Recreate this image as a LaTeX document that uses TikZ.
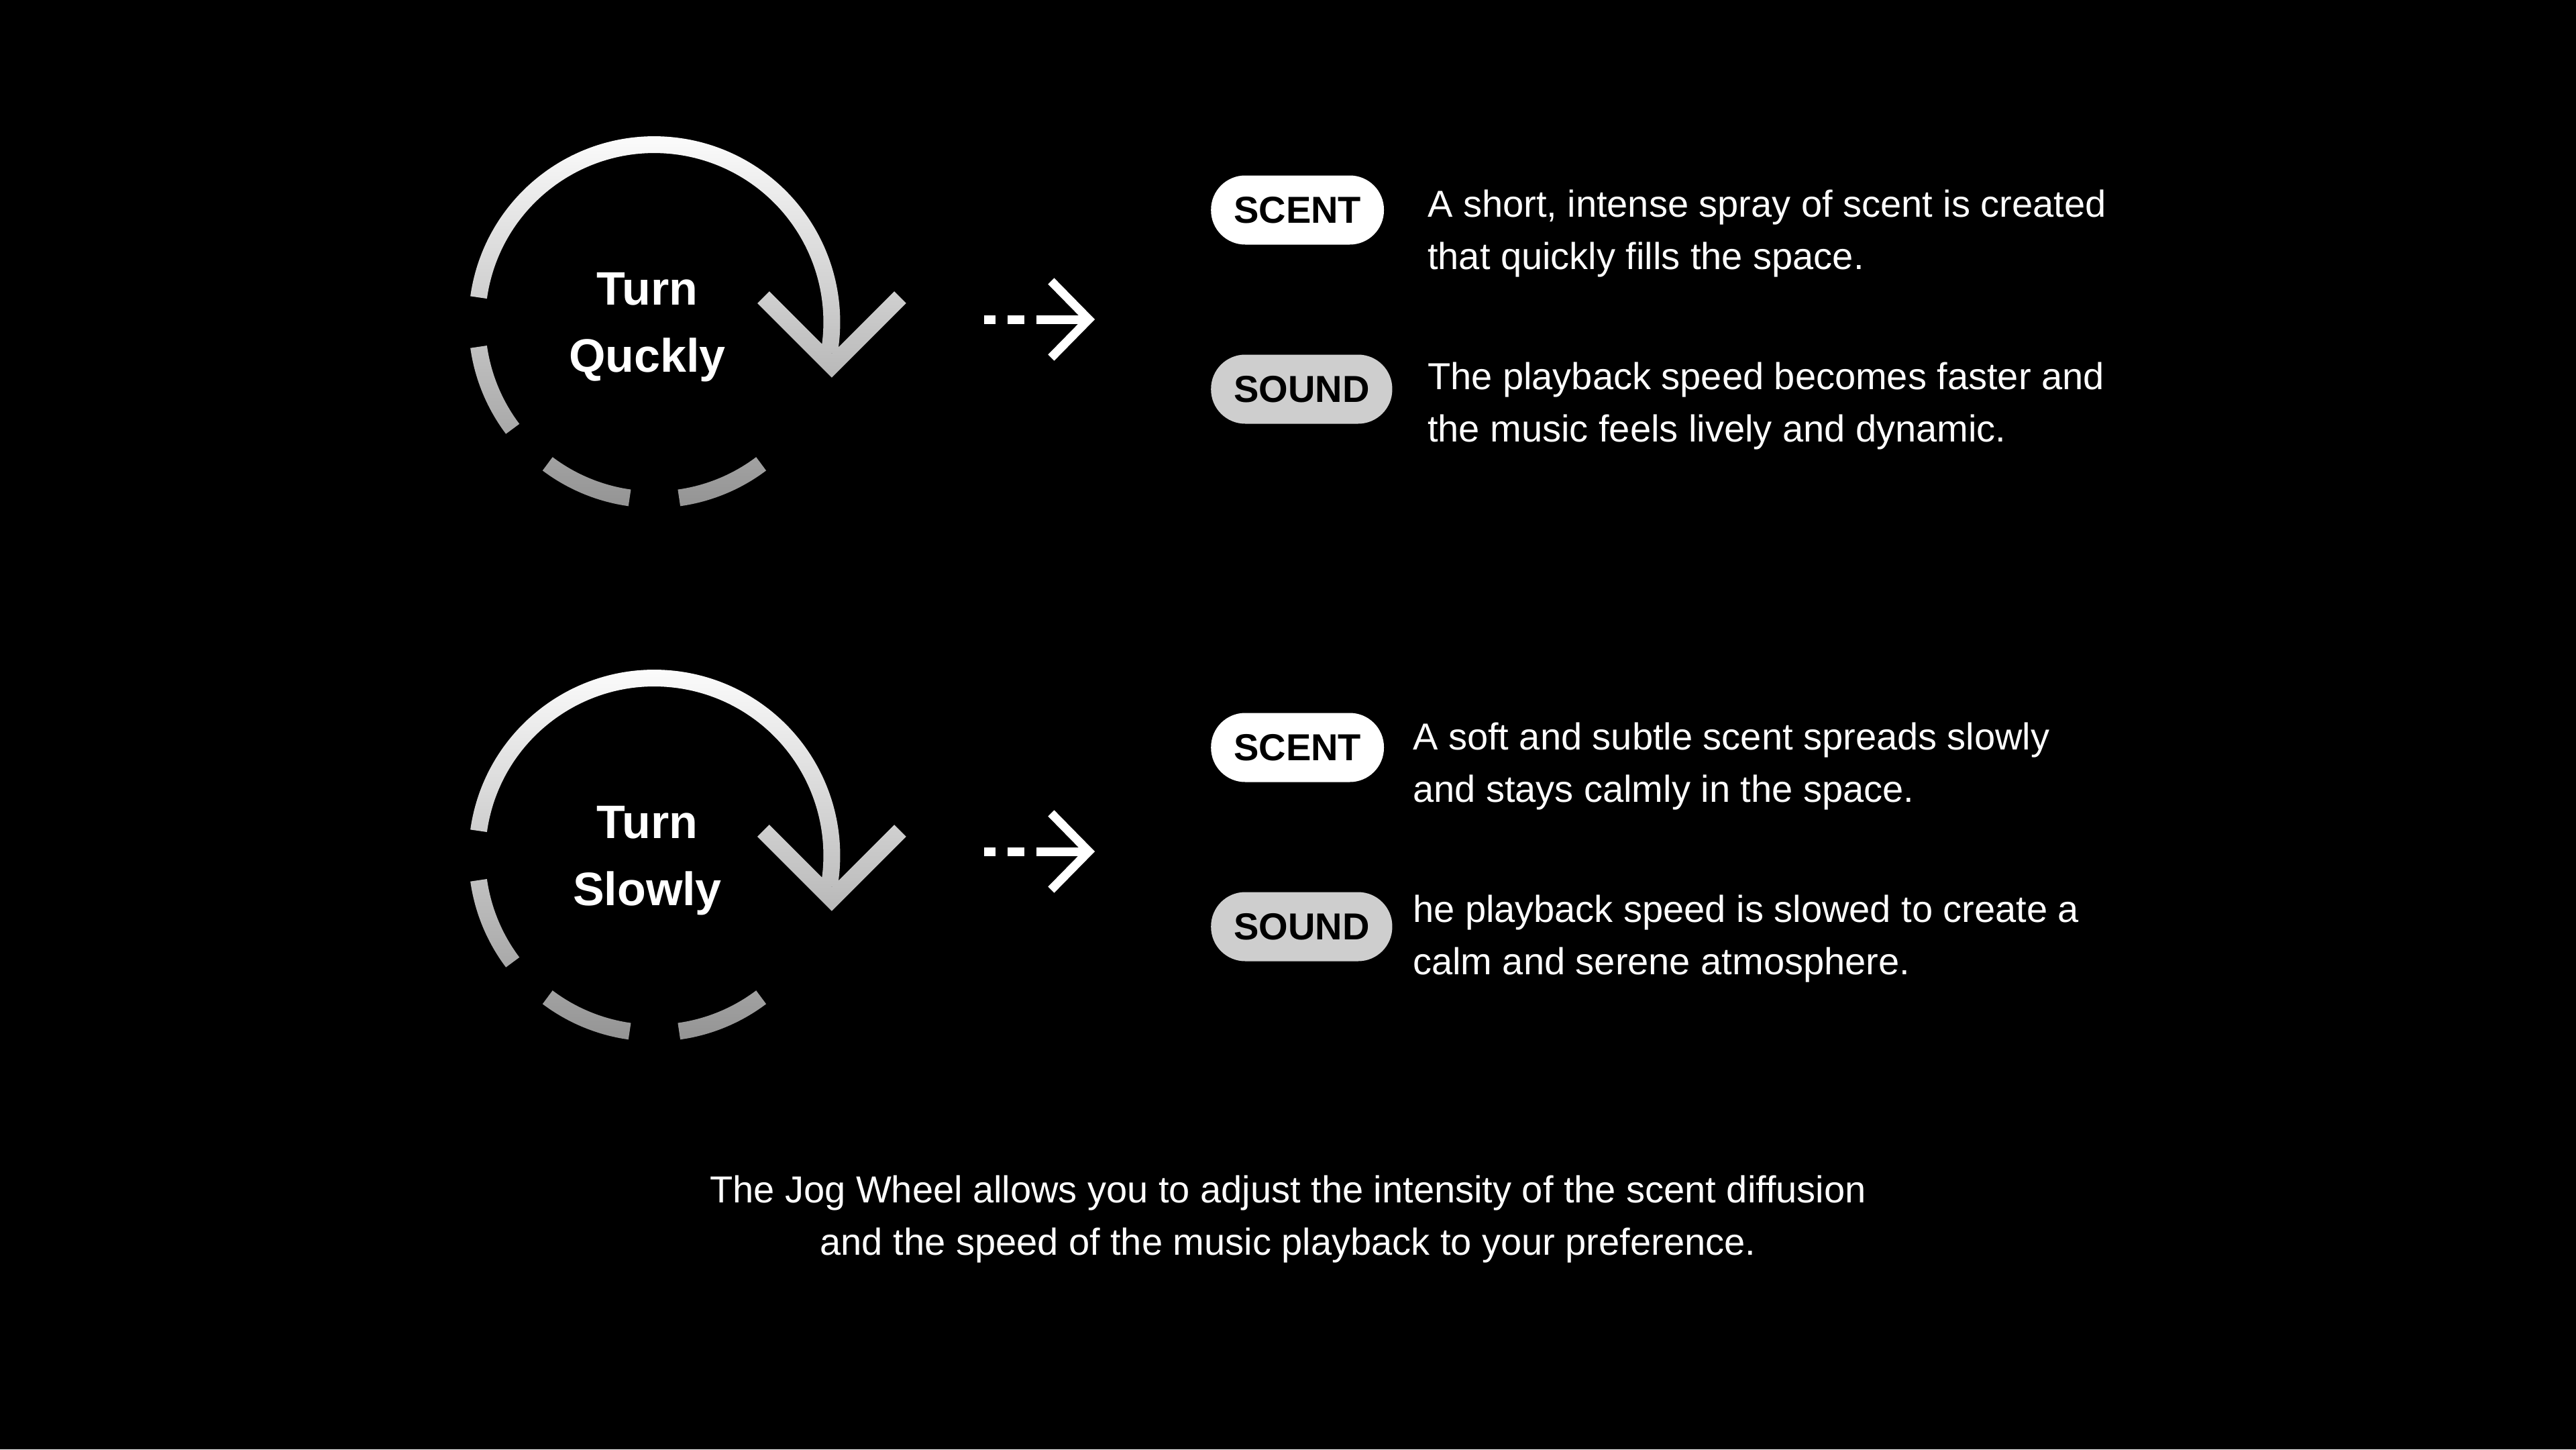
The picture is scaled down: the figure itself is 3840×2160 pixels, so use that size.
\documentclass[tikz,border=0pt]{standalone}
\usepackage{fontspec}
\setmainfont{Liberation Sans}
\usetikzlibrary{positioning}
\usetikzlibrary{fadings}
\usetikzlibrary{arrows.meta}
\definecolor{pillgray}{RGB}{206, 206, 206}
\tikzfading[name=wheelfade, top color=transparent!0, bottom color=transparent!42]

\begin{document}
\begin{tikzpicture}[
  wheel/.style={draw=white, line width=25pt, line join=miter, path fading=wheelfade},
  turnlabel/.style={text=white, align=center, font=\bfseries\fontsize{70}{100}\selectfont},
  pill/.style={anchor=west, rounded corners=51pt, minimum height=103pt, inner xsep=34pt, text=black, font=\bfseries\fontsize{56}{60}\selectfont},
  desc/.style={anchor=west, align=left, inner sep=0pt, text=white, font=\fontsize{56}{78}\selectfont},
  jog/.style={draw=white, line width=13pt, dash pattern=on 17pt off 18pt on 25pt off 18pt on 400pt, -{Straight Barb[length=56pt, width=114pt, line width=13pt]}}]
\fill[black] (0pt, 0pt) rectangle (3840pt, -2160pt);

% turn quickly
\coordinate (w1) at (975.5pt, -480pt);
\coordinate (v1) at (1240pt, -545pt);
\draw [wheel] (w1) ++(172:264.5pt) arc[start angle=172, end angle=-10, radius=264.5pt]
  (v1) ++(-102pt, 102pt) -- (v1) -- ++(102pt, 102pt)
  (w1) ++(188:264.5pt) arc[start angle=188, end angle=217, radius=264.5pt]
  (w1) ++(233:264.5pt) arc[start angle=233, end angle=262, radius=264.5pt]
  (w1) ++(278:264.5pt) arc[start angle=278, end angle=307, radius=264.5pt];
\node (t1) [turnlabel] at (965pt, -488pt) {Turn\\Quckly};
\coordinate (a1) at (1467pt, -476pt);
\coordinate (b1) at (1632pt, -476pt);
\draw [jog] (a1) to (b1);
\node (s1) [pill, fill=white] at (1805pt, -313pt) {SCENT};
\node (d1) [desc] at (2128pt, -348pt) {A short, intense spray of scent is created\\that quickly fills the space.};
\node (s2) [pill, fill=pillgray] at (1805pt, -580pt) {SOUND};
\node (d2) [desc] at (2128pt, -605pt) {The playback speed becomes faster and\\the music feels lively and dynamic.};

% turn slowly
\coordinate (w2) at (975.5pt, -1275pt);
\coordinate (v2) at (1240pt, -1340pt);
\draw [wheel] (w2) ++(172:264.5pt) arc[start angle=172, end angle=-10, radius=264.5pt]
  (v2) ++(-102pt, 102pt) -- (v2) -- ++(102pt, 102pt)
  (w2) ++(188:264.5pt) arc[start angle=188, end angle=217, radius=264.5pt]
  (w2) ++(233:264.5pt) arc[start angle=233, end angle=262, radius=264.5pt]
  (w2) ++(278:264.5pt) arc[start angle=278, end angle=307, radius=264.5pt];
\node (t2) [turnlabel] at (965pt, -1283pt) {Turn\\Slowly};
\coordinate (a2) at (1467pt, -1269pt);
\coordinate (b2) at (1632pt, -1269pt);
\draw [jog] (a2) to (b2);
\node (s3) [pill, fill=white] at (1805pt, -1114pt) {SCENT};
\node (d3) [desc] at (2106pt, -1142pt) {A soft and subtle scent spreads slowly\\and stays calmly in the space.};
\node (s4) [pill, fill=pillgray] at (1805pt, -1381pt) {SOUND};
\node (d4) [desc] at (2106pt, -1399pt) {he playback speed is slowed to create a\\calm and serene atmosphere.};

\node (note) [text=white, align=center, inner sep=0pt, font=\fontsize{56}{78}\selectfont] at (1920pt, -1817pt) {The Jog Wheel allows you to adjust the intensity of the scent diffusion\\and the speed of the music playback to your preference.};
\end{tikzpicture}
\end{document}
